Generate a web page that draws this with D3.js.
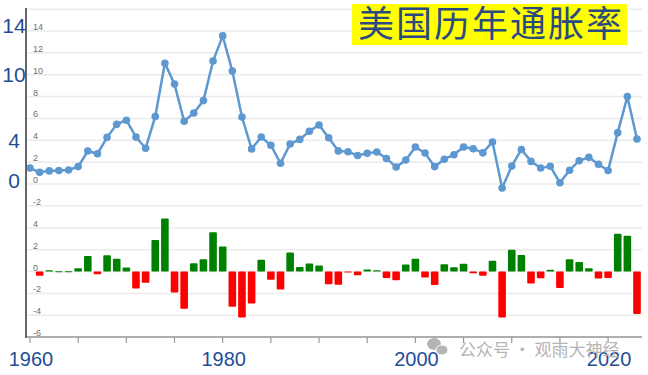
<!DOCTYPE html>
<html>
<head>
<meta charset="utf-8">
<script src="https://cdn.jsdelivr.net/npm/d3@7"></script>
<style>
  body { margin: 0; background: #fff; }
  svg { display: block; font-family: "Liberation Sans", "DejaVu Sans", sans-serif; }
</style>
</head>
<body>
<svg width="648" height="375"></svg>
<script>
// data: US CPI inflation by year (%), and the change from the previous year
var years = d3.range(1960, 2024);
var inflation = [1.46, 1.07, 1.20, 1.24, 1.28, 1.59, 3.02, 2.77, 4.27, 5.46,
  5.84, 4.29, 3.27, 6.18, 11.05, 9.14, 5.74, 6.50, 7.63, 11.25,
  13.55, 10.33, 6.13, 3.21, 4.30, 3.55, 1.90, 3.66, 4.08, 4.83,
  5.40, 4.23, 3.03, 2.95, 2.61, 2.81, 2.93, 2.34, 1.55, 2.19,
  3.38, 2.83, 1.59, 2.27, 2.68, 3.39, 3.23, 2.85, 3.84, -0.36,
  1.64, 3.16, 2.07, 1.46, 1.62, 0.12, 1.26, 2.13, 2.44, 1.81,
  1.23, 4.70, 8.00, 4.12];
var changeYears = d3.range(1961, 2024);
var changes = [-0.39, 0.13, 0.04, 0.04, 0.31, 1.43, -0.25, 1.50, 1.19,
  0.38, -1.55, -1.02, 2.91, 4.87, -1.91, -3.40, 0.76, 1.13, 3.62,
  2.30, -3.22, -4.20, -2.92, 1.09, -0.75, -1.65, 1.76, 0.42, 0.75,
  0.57, -1.17, -1.20, -0.08, -0.34, 0.20, 0.12, -0.59, -0.79, 0.64,
  1.19, -0.55, -1.24, 0.68, 0.41, 0.71, -0.16, -0.38, 0.99, -4.20,
  2.00, 1.52, -1.09, -0.61, 0.16, -1.50, 1.14, 0.87, 0.31, -0.63,
  -0.58, 3.47, 3.30, -3.88];
var topTicks = [14, 12, 10, 8, 6, 4, 2, 0, -2];
var barTicks = [4, 2, 0, -2, -4, -6];
var bigYLabels = [14, 10, 4, 0];
var bigXLabels = [1960, 1980, 2000, 2020];
var title = "美国历年通胀率";

var svg = d3.select("svg");

var x = d3.scaleLinear().domain([1960, 2023]).range([30, 637]);
var yTop = d3.scaleLinear().domain([0, 14]).range([184, 31]);
var yBar = d3.scaleLinear().domain([-6, 4]).range([337, 228]);

// gridlines
var grid = svg.append("g");
grid.selectAll("line.t")
  .data([16].concat(topTicks))
  .enter().append("line")
  .attr("x1", 26).attr("x2", 642)
  .attr("y1", d => yTop(d)).attr("y2", d => yTop(d))
  .attr("stroke", "#ebebeb").attr("stroke-width", 1.5);
grid.selectAll("line.b")
  .data(barTicks)
  .enter().append("line")
  .attr("x1", 26).attr("x2", 642)
  .attr("y1", d => yBar(d)).attr("y2", d => yBar(d))
  .attr("stroke", "#ebebeb").attr("stroke-width", 1.5);

// small tick labels
svg.append("g").selectAll("text")
  .data(topTicks)
  .enter().append("text")
  .attr("x", 33).attr("y", d => yTop(d) - 1)
  .attr("font-size", 9).attr("fill", "#6f6f6f")
  .text(d => d);
svg.append("g").selectAll("text")
  .data(barTicks)
  .enter().append("text")
  .attr("x", 33).attr("y", d => yBar(d) - 1)
  .attr("font-size", 9).attr("fill", "#6f6f6f")
  .text(d => d);

// bars
svg.append("g").selectAll("rect")
  .data(changes)
  .enter().append("rect")
  .attr("x", (d, i) => x(changeYears[i]) - 3.8)
  .attr("width", 7.6)
  .attr("y", d => yBar(Math.max(0, d)))
  .attr("height", d => Math.max(1, Math.abs(yBar(d) - yBar(0))))
  .attr("rx", 1)
  .attr("fill", d => d >= 0 ? "#008000" : "#ff0000");

// line
var line = d3.line().x((d, i) => x(years[i])).y(d => yTop(d));
svg.append("path")
  .datum(inflation)
  .attr("d", line)
  .attr("fill", "none")
  .attr("stroke", "#5e98d0")
  .attr("stroke-width", 2.5);
svg.append("g").selectAll("circle")
  .data(inflation)
  .enter().append("circle")
  .attr("cx", (d, i) => x(years[i]))
  .attr("cy", d => yTop(d))
  .attr("r", 3.8)
  .attr("fill", "#5e98d0");

// axes
svg.append("line")
  .attr("x1", 26).attr("x2", 642).attr("y1", 337).attr("y2", 337)
  .attr("stroke", "#999").attr("stroke-width", 1.5);
svg.append("g").selectAll("line")
  .data(d3.range(1960, 2024, 5))
  .enter().append("line")
  .attr("x1", d => x(d)).attr("x2", d => x(d))
  .attr("y1", 337).attr("y2", 343)
  .attr("stroke", "#999").attr("stroke-width", 1.2);
svg.append("line")
  .attr("x1", 26).attr("x2", 26).attr("y1", 8).attr("y2", 338)
  .attr("stroke", "#666").attr("stroke-width", 2);

// big labels
svg.append("g").selectAll("text")
  .data(bigYLabels)
  .enter().append("text")
  .attr("x", 14).attr("y", d => yTop(d) + ({14: 2, 10: 7, 4: 8, 0: 4})[d])
  .attr("text-anchor", "middle")
  .attr("font-size", 21).attr("fill", "#1f4e96")
  .text(d => d);
svg.append("g").selectAll("text")
  .data(bigXLabels)
  .enter().append("text")
  .attr("x", d => x(d) + 1).attr("y", 366)
  .attr("text-anchor", "middle")
  .attr("font-size", 20).attr("fill", "#1f4e96")
  .text(d => d);

// watermark
var wm = svg.append("g").attr("fill", "#b5b5b5");
wm.append("ellipse").attr("cx", 434).attr("cy", 344).attr("rx", 7).attr("ry", 6);
wm.append("ellipse").attr("cx", 442).attr("cy", 350).attr("rx", 6).attr("ry", 5).attr("stroke", "#fff").attr("stroke-width", 1);
wm.append("text")
  .attr("x", 459).attr("y", 356)
  .attr("font-family", "Noto Sans CJK SC")
  .attr("font-size", 17)
  .text("公众号 · 观雨大神经");

// title
svg.append("rect")
  .attr("x", 352).attr("y", 4).attr("width", 275).attr("height", 41)
  .attr("fill", "#ffff00");
svg.append("text")
  .attr("x", 358).attr("y", 37)
  .attr("font-family", "Noto Sans CJK SC")
  .attr("font-size", 36)
  .attr("letter-spacing", 2)
  .attr("fill", "#2b4a80")
  .text(title);
</script>
</body>
</html>
